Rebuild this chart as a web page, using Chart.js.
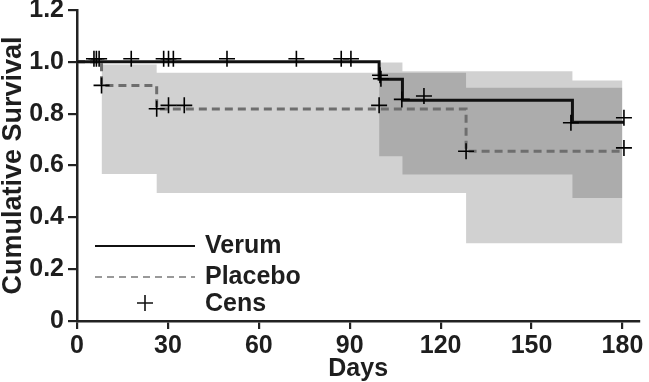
<!DOCTYPE html>
<html>
<head>
<meta charset="utf-8">
<script src="https://cdn.jsdelivr.net/npm/chart.js@4/dist/chart.umd.min.js"></script>
<style>
  html, body { margin: 0; padding: 0; background: #fff; }
  #wrap { width: 649px; height: 382px; position: relative; }
</style>
</head>
<body>
<div id="wrap"><canvas id="c" width="649" height="382"></canvas></div>
<script>
// ---- Data ----
const verumDays = [0, 99.7, 107.4, 163.5, 180.5];
const verumSurv = [1.0, 0.933, 0.852, 0.767, 0.767];
const placeboDays = [0, 8.1, 26.3, 128.4, 180.5];
const placeboSurv = [1.0, 0.909, 0.818, 0.655, 0.655];

const placeboCIDays = [8.1, 26.3, 128.4, 180];
const placeboCIUpper = [0.99, 0.958, 0.90, 0.90];
const placeboCILower = [0.567, 0.494, 0.30, 0.30];

const verumCIDays = [99.7, 107.4, 163.5, 180];
const verumCIUpper = [0.997, 0.964, 0.928, 0.928];
const verumCILower = [0.636, 0.565, 0.475, 0.475];

const verumCensDays = [5.6, 6.4, 7.3, 17.9, 28.6, 30.2, 31.8, 49.5, 72.4, 87.2, 90.4, 100, 100.3, 107.2, 114.5, 163, 180.5];
const verumCensSurv = [1.012, 1.012, 1.012, 1.012, 1.012, 1.012, 1.012, 1.012, 1.012, 1.012, 1.012, 0.948, 0.935, 0.855, 0.868, 0.765, 0.784];
const placeboCensDays = [8.1, 26.3, 30.2, 35.4, 99.7, 128.4, 180.5];
const placeboCensSurv = [0.909, 0.819, 0.832, 0.832, 0.832, 0.655, 0.668];

const xTicks = [0, 30, 60, 90, 120, 150, 180];
const yTicks = [0, 0.2, 0.4, 0.6, 0.8, 1.0, 1.2];
const legendLabels = ['Verum', 'Placebo', 'Cens'];

// ---- helpers ----
const pts = (xs, ys) => xs.map((x, i) => ({x: x, y: ys[i]}));
const FONT = "'Liberation Sans', Arial, Helvetica, sans-serif";
const TXT = '#1e1e1e';
const BAND = 'rgba(0,0,0,0.18)';

const legendPlugin = {
  id: 'customLegend',
  afterDraw(chart) {
    const ctx = chart.ctx;
    ctx.save();
    ctx.font = 'bold 25px ' + FONT;
    ctx.fillStyle = TXT;
    ctx.textBaseline = 'middle';
    ctx.textAlign = 'left';
    // Verum
    ctx.strokeStyle = '#111';
    ctx.lineWidth = 2;
    ctx.setLineDash([]);
    ctx.beginPath(); ctx.moveTo(95, 246); ctx.lineTo(195, 246); ctx.stroke();
    ctx.fillText(legendLabels[0], 205, 246);
    // Placebo
    ctx.strokeStyle = '#999';
    ctx.lineWidth = 2;
    ctx.setLineDash([7, 5]);
    ctx.beginPath(); ctx.moveTo(95, 277); ctx.lineTo(195, 277); ctx.stroke();
    ctx.setLineDash([]);
    ctx.fillText(legendLabels[1], 205, 277);
    // Cens
    ctx.strokeStyle = '#111';
    ctx.lineWidth = 1.6;
    ctx.beginPath();
    ctx.moveTo(137, 303); ctx.lineTo(153, 303);
    ctx.moveTo(145, 295); ctx.lineTo(145, 311);
    ctx.stroke();
    ctx.fillText(legendLabels[2], 205, 304);
    ctx.restore();
  }
};

const ctx = document.getElementById('c').getContext('2d');
new Chart(ctx, {
  type: 'line',
  data: {
    datasets: [
      { // crosses
        label: 'Cens Verum', data: pts(verumCensDays, verumCensSurv), showLine: false,
        pointStyle: 'cross', pointRadius: 8, pointBorderWidth: 1.6, pointBorderColor: '#000',
        borderColor: '#000', order: 0, clip: false
      },
      {
        label: 'Cens Placebo', data: pts(placeboCensDays, placeboCensSurv), showLine: false,
        pointStyle: 'cross', pointRadius: 8, pointBorderWidth: 1.6, pointBorderColor: '#000',
        borderColor: '#000', order: 0, clip: false
      },
      {
        label: 'Verum', data: pts(verumDays, verumSurv), stepped: 'before',
        borderColor: '#111', borderWidth: 3, pointRadius: 0, fill: false, order: 1
      },
      {
        label: 'Placebo', data: pts(placeboDays, placeboSurv), stepped: 'before',
        borderColor: '#6e6e6e', borderWidth: 3, borderDash: [8, 5], pointRadius: 0, fill: false, order: 2
      },
      {
        label: 'Placebo CI upper', data: pts(placeboCIDays, placeboCIUpper), stepped: 'before',
        borderColor: 'transparent', borderWidth: 0, pointRadius: 0, fill: false, order: 3
      },
      {
        label: 'Placebo CI lower', data: pts(placeboCIDays, placeboCILower), stepped: 'before',
        borderColor: 'transparent', borderWidth: 0, pointRadius: 0, fill: '-1', backgroundColor: BAND, order: 3
      },
      {
        label: 'Verum CI upper', data: pts(verumCIDays, verumCIUpper), stepped: 'before',
        borderColor: 'transparent', borderWidth: 0, pointRadius: 0, fill: false, order: 4
      },
      {
        label: 'Verum CI lower', data: pts(verumCIDays, verumCILower), stepped: 'before',
        borderColor: 'transparent', borderWidth: 0, pointRadius: 0, fill: '-1', backgroundColor: BAND, order: 4
      }
    ]
  },
  options: {
    responsive: false,
    animation: false,
    devicePixelRatio: 1,
    layout: { padding: { top: 10, right: 0, left: 0, bottom: 0 } },
    plugins: { legend: { display: false }, tooltip: { enabled: false }, filler: { propagate: false } },
    scales: {
      x: {
        type: 'linear', min: 0, max: 185.6,
        afterFit(s) { s.height = 61; s.paddingLeft = 0; s.paddingRight = 0; },
        afterBuildTicks(s) { s.ticks = xTicks.map(v => ({value: v})); },
        ticks: { font: { size: 25, weight: 'bold', family: FONT }, color: TXT, padding: 2, maxRotation: 0 },
        grid: { drawOnChartArea: false, drawTicks: true, tickLength: 8, color: '#222', lineWidth: 2.2 },
        border: { display: true, color: '#222', width: 2.5 },
        title: { display: true, text: 'Days', color: TXT, font: { size: 25, weight: 'bold', family: FONT, lineHeight: 1 }, padding: { top: 0, bottom: 0 } }
      },
      y: {
        type: 'linear', min: 0, max: 1.2,
        afterFit(s) { s.width = 77; s.paddingTop = 0; s.paddingBottom = 0; },
        afterBuildTicks(s) { s.ticks = yTicks.map(v => ({value: v})); },
        ticks: { font: { size: 25, weight: 'bold', family: FONT, lineHeight: 0.8 }, color: TXT, padding: 4,
          callback: v => v === 0 ? '0' : v.toFixed(1) },
        grid: { drawOnChartArea: false, drawTicks: true, tickLength: 9, color: '#222', lineWidth: 2.2 },
        border: { display: true, color: '#222', width: 2.5 },
        title: { display: true, text: 'Cumulative Survival', color: TXT, font: { size: 27, weight: 'bold', family: FONT, lineHeight: 1 }, padding: { top: 0, bottom: 0 } }
      }
    }
  },
  plugins: [legendPlugin]
});
</script>
</body>
</html>
